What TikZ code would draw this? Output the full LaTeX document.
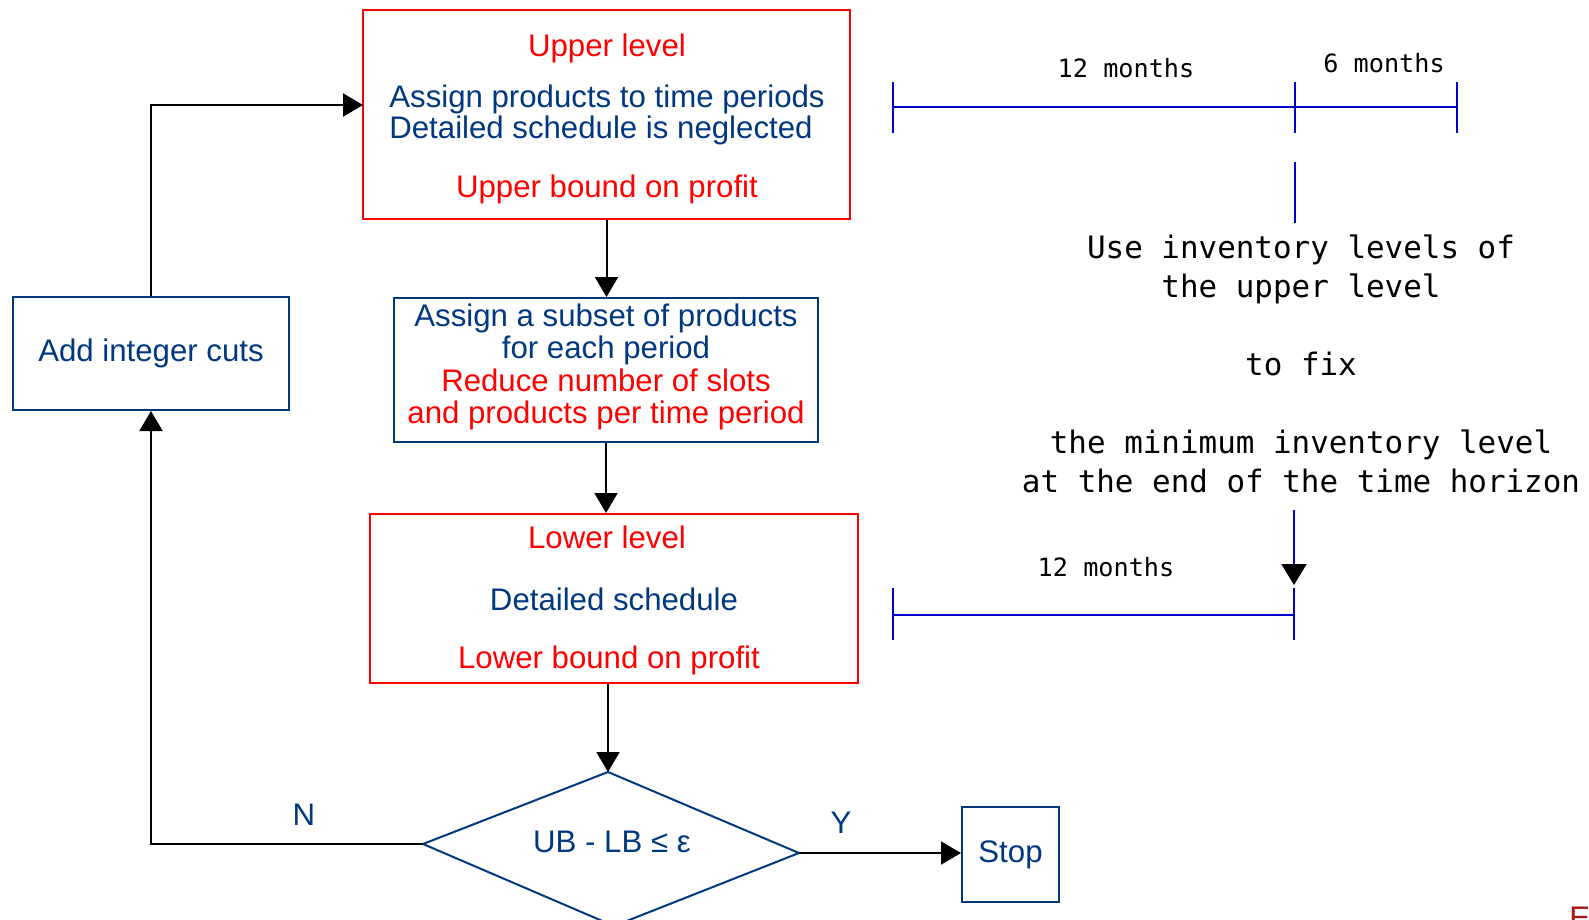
\documentclass[tikz,border=0pt]{standalone}
\usepackage{fontspec}
\setmainfont{Liberation Sans}
\setmonofont{DejaVu Sans Mono}
\usetikzlibrary{arrows.meta}
\definecolor{navy}{RGB}{0,56,128}
\definecolor{lineblue}{RGB}{0,0,204}
\definecolor{logored}{RGB}{170,20,20}

\begin{document}
\begin{tikzpicture}[x=0.5pt, y=-0.5pt,
  txt/.style={font=\fontsize{15.6}{16.3}\selectfont, inner sep=0pt},
  mono/.style={font=\ttfamily\fontsize{15.45}{19.5}\selectfont, inner sep=0pt, align=center},
  small mono/.style={font=\ttfamily\fontsize{12.6}{14}\selectfont, inner sep=0pt},
  redbox/.style={draw=red, line width=1pt, inner sep=0pt},
  bluebox/.style={draw=navy, line width=1pt, inner sep=0pt},
  flow/.style={draw=black, line width=1pt, -{Triangle[length=10pt, width=11.5pt]}},
  scale line/.style={draw=lineblue, line width=1pt}]

\useasboundingbox (0,0) rectangle (1589,920);
\clip (0,0) rectangle (1589,920);

% upper level
\node[redbox, minimum width=243.5pt, minimum height=104.5pt] (upper) at (606.5,114.5) {};
\node[txt, red] (uptitle) at (607,48) {Upper level};
\node[txt, text=navy, align=left, font=\fontsize{15.6}{15.5}\selectfont] (uptext) at (607,115)
      {Assign products to time periods\\Detailed schedule is neglected};
\node[txt, red] (upbound) at (607,189) {Upper bound on profit};

% subset of products
\node[bluebox, minimum width=212pt, minimum height=72pt] (subset) at (606,370) {};
\node[txt, text=navy, align=center] (subtext) at (606,367)
      {Assign a subset of products\\for each period\\
       \textcolor{red}{Reduce number of slots}\\\textcolor{red}{and products per time period}};

% lower level
\node[redbox, minimum width=244pt, minimum height=84.5pt] (lower) at (614,598.5) {};
\node[txt, red] (lowtitle) at (607,537) {Lower level};
\node[txt, text=navy] (lowtext) at (614,599) {Detailed schedule};
\node[txt, red] (lowbound) at (609,660) {Lower bound on profit};

% integer cuts and stop
\node[bluebox, txt, text=navy, minimum width=138pt, minimum height=56.5pt] (cuts) at (151,353.5) {Add integer cuts};
\node[bluebox, txt, text=navy, minimum width=48.5pt, minimum height=47.5pt] (stop) at (1010.5,854.5) {Stop};

% convergence test
\coordinate (dtop) at (608,772);
\coordinate (dright) at (799,853);
\coordinate (dbot) at (614,926);
\coordinate (dleft) at (423,844);
\draw[navy, line width=1pt] (dtop) -- (dright) -- (dbot) -- (dleft) -- cycle;
\node[txt, text=navy] (test) at (612,842) {UB - LB ≤ ε};
\node[txt, text=navy] (no) at (304,815) {N};
\node[txt, text=navy] (yes) at (841,823) {Y};

% flow
\coordinate (uin) at (363,105);
\draw[flow] (upper.south) -- (upper.south |- subset.north);
\draw[flow] (subset.south) -- (subset.south |- lower.north);
\draw[flow] (lower.south -| dtop) -- (dtop);
\draw[flow] (dleft) -| (cuts.south);
\draw[flow] (cuts.north) |- (uin);
\draw[flow] (dright) -- (dright -| stop.west);

% time horizon of the upper level
\coordinate (t0) at (893,107);
\coordinate (t1) at (1295,107);
\coordinate (t2) at (1457,107);
\draw[scale line] (t0) -- (t2);
\foreach \t in {t0,t1,t2}
  \draw[scale line] (\t) ++(0,-25) -- ++(0,51);
\node[small mono] (twelve) at (1126,68) {12 months};
\node[small mono] (six) at (1384,63) {6 months};
\draw[scale line] (t1) ++(0,55) -- ++(0,61);

\node[mono] (note) at (1301,364)
      {Use inventory levels of\\the upper level\\[19.5pt]to fix\\[19.5pt]the minimum inventory level\\at the end of the time horizon};

% time horizon of the lower level
\coordinate (b0) at (893,615);
\coordinate (b1) at (1294,615);
\coordinate (fixtop) at (1294,510);
\draw[scale line] (b0) -- (b1);
\foreach \t in {b0,b1}
  \draw[scale line] (\t) ++(0,-27) -- ++(0,52);
\draw[scale line, -{Triangle[length=10.5pt, width=12.5pt, black]}] (fixtop) -- ([yshift=15pt]b1);
\node[small mono] (twelvelow) at (1106,567) {12 months};

% logo
\node[txt, text=logored, anchor=base west] (logo) at (1569,928) {EWO};
\end{tikzpicture}
\end{document}
